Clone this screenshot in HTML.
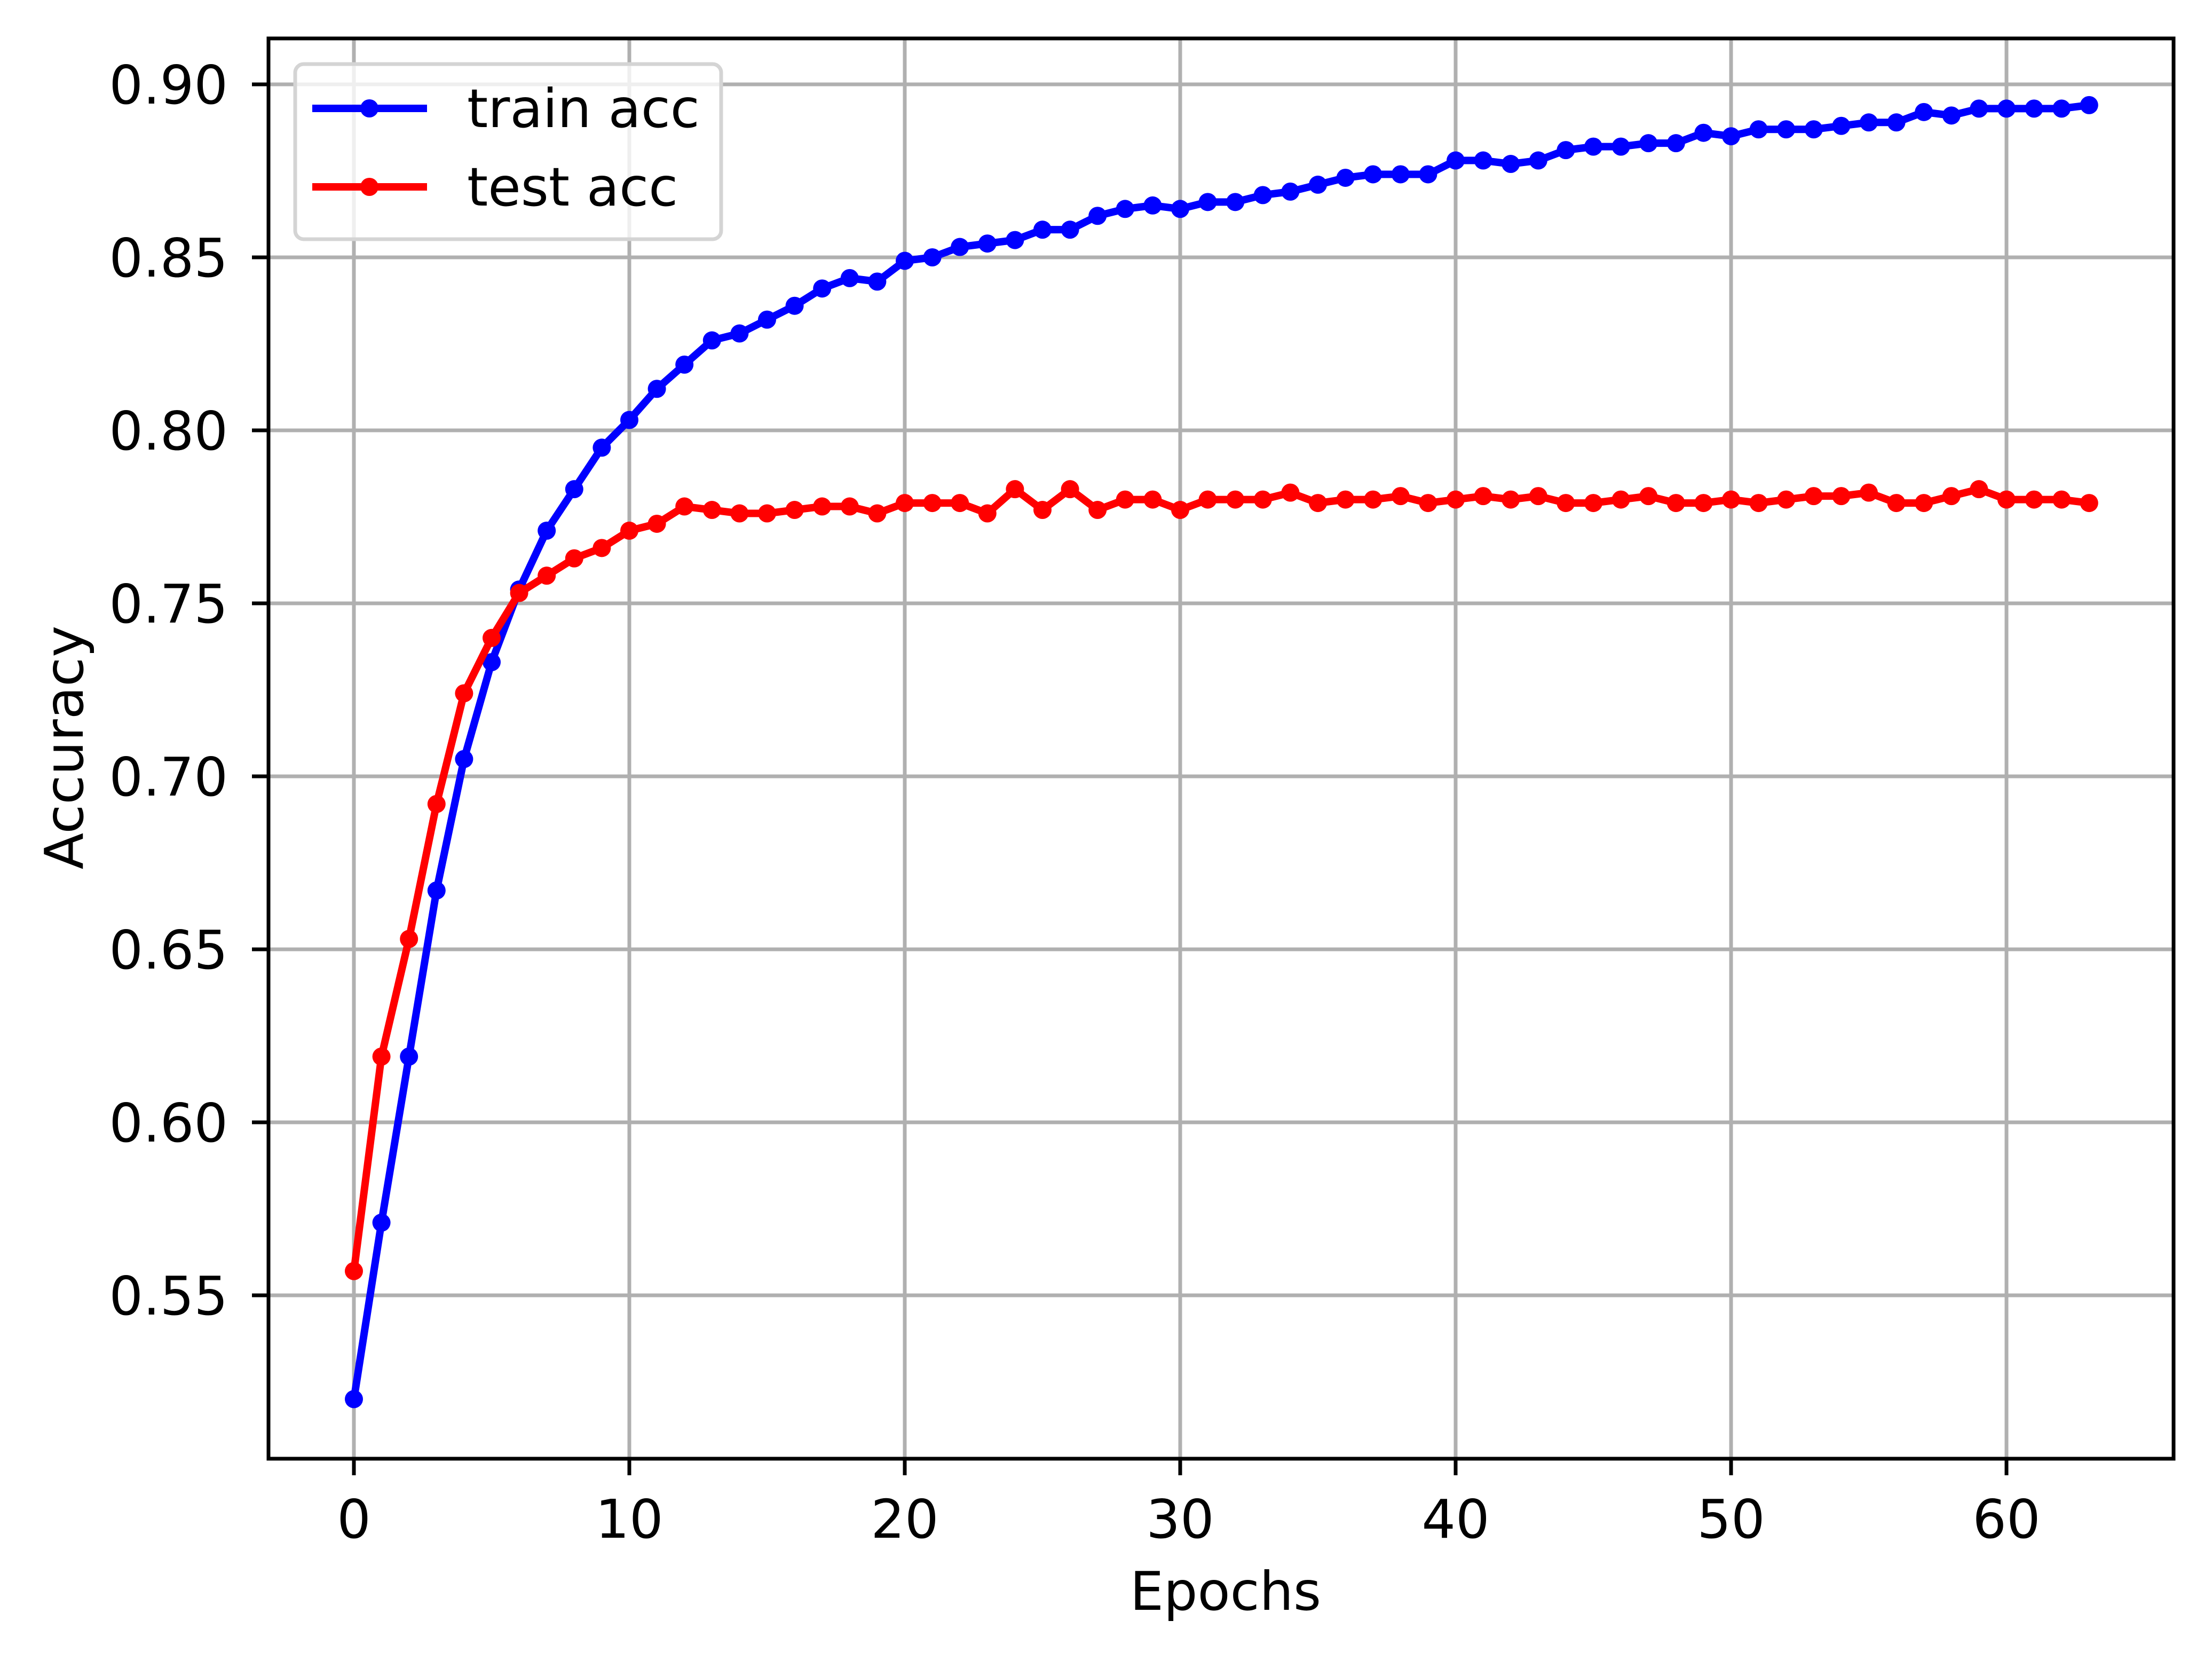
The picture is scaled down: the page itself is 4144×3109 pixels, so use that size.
<!DOCTYPE html>
<html><head><meta charset="utf-8"><style>
html,body{margin:0;padding:0;background:#fff}
svg{display:block;font-family:"DejaVu Sans","Liberation Sans",sans-serif}
</style></head><body>
<svg id="chart" width="4144" height="3109" viewBox="0 0 4144 3109" xmlns="http://www.w3.org/2000/svg">
<rect width="4144" height="3109" fill="#fff"/>
<g id="grid"></g>
<g id="series"></g>
<rect x="503" y="72" width="3569" height="2660" fill="none" stroke="#000" stroke-width="7"/>
<g id="ticks"></g>
<text x="2296" y="3015" font-size="100" text-anchor="middle">Epochs</text>
<text transform="translate(155,1400) rotate(-90)" font-size="100" text-anchor="middle">Accuracy</text>
<g>
<rect x="553" y="120" width="798" height="328" rx="16" fill="#fff" fill-opacity="0.8" stroke="#d4d4d4" stroke-width="7"/>
<line x1="585" y1="203" x2="800" y2="203" stroke="#0000ff" stroke-width="14"/>
<circle cx="692" cy="203" r="17" fill="#0000ff"/>
<text x="875" y="238" font-size="100">train acc</text>
<line x1="585" y1="350" x2="800" y2="350" stroke="#ff0000" stroke-width="14"/>
<circle cx="692" cy="350" r="17" fill="#ff0000"/>
<text x="875" y="385" font-size="100">test acc</text>
</g>
</svg>
<script>
const trainAcc=[0.520,0.571,0.619,0.667,0.705,0.733,0.754,0.771,0.783,0.795,0.803,0.812,0.819,0.826,0.828,0.832,0.836,0.841,0.844,0.843,0.849,0.850,0.853,0.854,0.855,0.858,0.858,0.862,0.864,0.865,0.864,0.866,0.866,0.868,0.869,0.871,0.873,0.874,0.874,0.874,0.878,0.878,0.877,0.878,0.881,0.882,0.882,0.883,0.883,0.886,0.885,0.887,0.887,0.887,0.888,0.889,0.889,0.892,0.891,0.893,0.893,0.893,0.893,0.894];
const testAcc=[0.557,0.619,0.653,0.692,0.724,0.740,0.753,0.758,0.763,0.766,0.771,0.773,0.778,0.777,0.776,0.776,0.777,0.778,0.778,0.776,0.779,0.779,0.779,0.776,0.783,0.777,0.783,0.777,0.780,0.780,0.777,0.780,0.780,0.780,0.782,0.779,0.780,0.780,0.781,0.779,0.780,0.781,0.780,0.781,0.779,0.779,0.780,0.781,0.779,0.779,0.780,0.779,0.780,0.781,0.781,0.782,0.779,0.779,0.781,0.783,0.780,0.780,0.780,0.779];
const xTicks=[0,10,20,30,40,50,60];
const yTicks=[0.55,0.60,0.65,0.70,0.75,0.80,0.85,0.90];
const yTickLabels=["0.55","0.60","0.65","0.70","0.75","0.80","0.85","0.90"];
const NS="http://www.w3.org/2000/svg";
function xs(v){return 663+v*51.6;}
function ys(v){return 158+(0.90-v)*6480;}
function mk(tag,attrs,parent){const e=document.createElementNS(NS,tag);for(const k in attrs)e.setAttribute(k,attrs[k]);parent.appendChild(e);return e;}
const grid=document.getElementById('grid'),ticks=document.getElementById('ticks'),series=document.getElementById('series');
xTicks.forEach(t=>{
  const g=mk('line',{x1:xs(t),x2:xs(t),y1:72,y2:2732,stroke:'#b0b0b0','stroke-width':7},grid);
  
  
  const tk=mk('line',{x1:xs(t),x2:xs(t),y1:2732,y2:2763,stroke:'#000','stroke-width':7},ticks);
  
  
  const tx=mk('text',{x:xs(t),y:2880,'font-size':100,'text-anchor':'middle'},ticks);
  tx.textContent=String(t);
  
  
});
yTicks.forEach((t,i)=>{
  const g=mk('line',{x1:503,x2:4072,y1:ys(t),y2:ys(t),stroke:'#b0b0b0','stroke-width':7},grid);
  
  
  const tk=mk('line',{x1:472,x2:503,y1:ys(t),y2:ys(t),stroke:'#000','stroke-width':7},ticks);
  
  
  const tx=mk('text',{x:427,y:ys(t)+36,'font-size':100,'text-anchor':'end'},ticks);
  tx.textContent=yTickLabels[i];
  
  
});
function drawSeries(data,color,name){
  const pts=data.map((v,i)=>xs(i)+','+ys(v)).join(' ');
  const pl=mk('polyline',{points:pts,fill:'none',stroke:color,'stroke-width':14,'stroke-linejoin':'round'},series);
  
  
  data.forEach((v,i)=>{
    const c=mk('circle',{cx:xs(i),cy:ys(v),r:17,fill:color},series);
    
    
  });
}
drawSeries(trainAcc,'#0000ff','train-acc');
drawSeries(testAcc,'#ff0000','test-acc');
</script>
</body></html>
